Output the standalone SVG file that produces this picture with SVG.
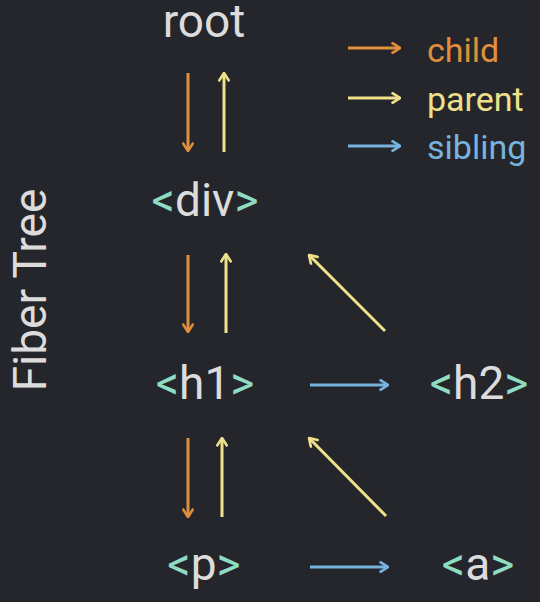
<svg xmlns="http://www.w3.org/2000/svg" width="540" height="602" viewBox="0 0 540 602">
<style>
text{font-family:Roboto,"Liberation Sans",sans-serif;}
.n{fill:#dcdcdc;font-size:46px;text-anchor:middle}
.b{fill:#8fdcc4}
.leg{font-size:34px}
.c{stroke:#e08f3c}
.y{stroke:#efe08c}
.s{stroke:#76b4de}
line{stroke-width:3;fill:none}
</style>
<defs>
<marker id="mc" viewBox="0 0 10 10" refX="9" refY="5" markerWidth="12" markerHeight="12" markerUnits="userSpaceOnUse" orient="auto"><polyline points="2,0.5 9,5 2,9.5" fill="none" stroke="#e08f3c" stroke-width="2.2"/></marker>
<marker id="my" viewBox="0 0 10 10" refX="9" refY="5" markerWidth="12" markerHeight="12" markerUnits="userSpaceOnUse" orient="auto"><polyline points="2,0.5 9,5 2,9.5" fill="none" stroke="#efe08c" stroke-width="2.2"/></marker>
<marker id="ms" viewBox="0 0 10 10" refX="9" refY="5" markerWidth="12" markerHeight="12" markerUnits="userSpaceOnUse" orient="auto"><polyline points="2,0.5 9,5 2,9.5" fill="none" stroke="#76b4de" stroke-width="2.2"/></marker>
</defs>
<rect width="540" height="602" fill="#25262b"/>
<text x="30" y="290" transform="rotate(-90 30 290)" style="fill:#dcdcdc;font-size:46px;text-anchor:middle;dominant-baseline:central">Fiber Tree</text>
<g id="legend">
<line class="c" x1="348" y1="48" x2="400" y2="48" marker-end="url(#mc)"/>
<text class="leg" x="427" y="62" fill="#e08f3c">child</text>
<line class="y" x1="348" y1="98" x2="400" y2="98" marker-end="url(#my)"/>
<text class="leg" x="427" y="111" fill="#efe08c">parent</text>
<line class="s" x1="348" y1="146" x2="400" y2="146" marker-end="url(#ms)"/>
<text class="leg" x="427" y="159" fill="#76b4de">sibling</text>
</g>
<g id="root"><text class="n" x="204" y="37">root</text></g>
<g id="div"><text class="n" x="205" y="216"><tspan class="b">&lt;</tspan>div<tspan class="b">&gt;</tspan></text></g>
<g id="h1"><text class="n" x="205" y="399"><tspan class="b">&lt;</tspan>h1<tspan class="b">&gt;</tspan></text></g>
<g id="h2"><text class="n" x="479" y="399"><tspan class="b">&lt;</tspan>h2<tspan class="b">&gt;</tspan></text></g>
<g id="p"><text class="n" x="204" y="580"><tspan class="b">&lt;</tspan>p<tspan class="b">&gt;</tspan></text></g>
<g id="a"><text class="n" x="478" y="580"><tspan class="b">&lt;</tspan>a<tspan class="b">&gt;</tspan></text></g>
<g id="connectors">
<line class="c" x1="188" y1="73" x2="188" y2="151" marker-end="url(#mc)"/>
<line class="y" x1="224" y1="152" x2="224" y2="73" marker-end="url(#my)"/>
<line class="c" x1="188" y1="255" x2="188" y2="332" marker-end="url(#mc)"/>
<line class="y" x1="226" y1="333" x2="226" y2="254" marker-end="url(#my)"/>
<line class="y" x1="385" y1="331" x2="309" y2="255" marker-end="url(#my)"/>
<line class="s" x1="310" y1="385" x2="388" y2="385" marker-end="url(#ms)"/>
<line class="c" x1="188" y1="438" x2="188" y2="517" marker-end="url(#mc)"/>
<line class="y" x1="222" y1="517" x2="222" y2="438" marker-end="url(#my)"/>
<line class="y" x1="386" y1="516" x2="309" y2="438" marker-end="url(#my)"/>
<line class="s" x1="310" y1="567" x2="388" y2="567" marker-end="url(#ms)"/>
</g>
</svg>
